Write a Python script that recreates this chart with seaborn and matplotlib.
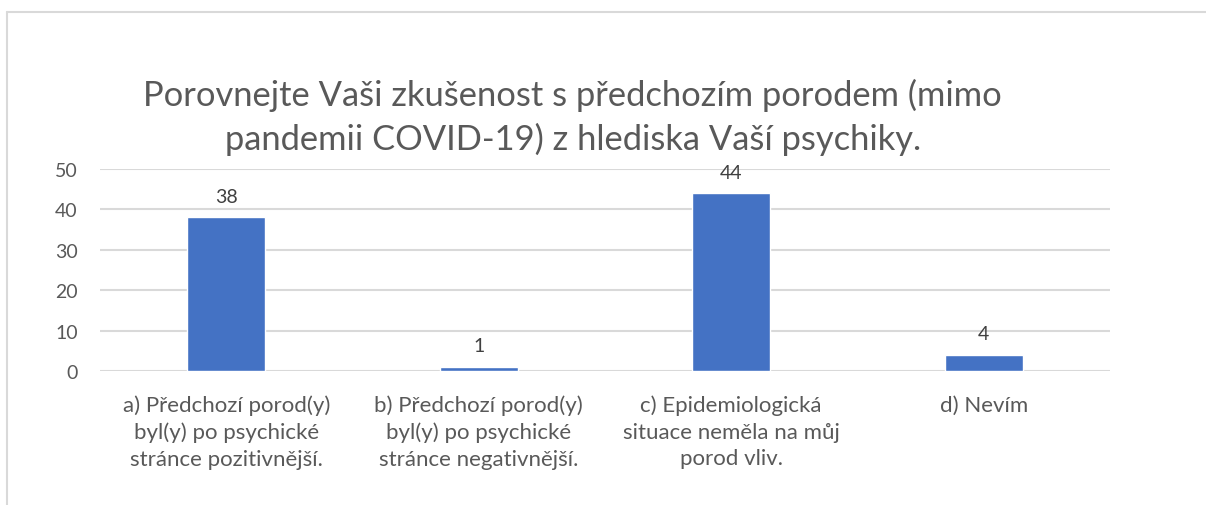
import matplotlib
matplotlib.use("Agg")
import matplotlib.pyplot as plt
from matplotlib.lines import Line2D
import seaborn as sns

categories = [
    "a) Předchozí porod(y)\nbyl(y) po psychické\nstránce pozitivnější.",
    "b) Předchozí porod(y)\nbyl(y) po psychické\nstránce negativnější.",
    "c) Epidemiologická\nsituace neměla na můj\nporod vliv.",
    "d) Nevím",
]
values = [38, 1, 44, 4]
y_ticks = [0, 10, 20, 30, 40, 50]
title = ("Porovnejte Vaši zkušenost s předchozím porodem (mimo\n"
         "pandemii COVID-19) z hlediska Vaší psychiky.")

sns.set_style("white")
plt.rcParams["font.family"] = ["Lato", "DejaVu Sans"]

fig = plt.figure(figsize=(12.06, 5.06), dpi=100)
ax = fig.add_axes([0.0829, 0.2648, 0.8375, 0.3992])

sns.barplot(x=categories, y=values, color="#4472C4", saturation=1, width=0.31, ax=ax)

ax.set_ylim(0, 50)
ax.set_yticks(y_ticks)
ax.set_xlim(-0.5, len(categories) - 0.5)
ax.yaxis.grid(True, color="#d9d9d9", linewidth=1.5)
ax.set_axisbelow(True)
for s in ax.spines.values():
    s.set_visible(False)
ax.tick_params(axis="y", length=0, pad=16, labelsize=14, labelcolor="#595959")
ax.tick_params(axis="x", length=0, pad=17, labelsize=16, labelcolor="#595959")
for lbl in ax.get_xticklabels():
    lbl.set_linespacing(1.4)
ax.set_xlabel("")
ax.set_ylabel("")

ax.bar_label(ax.containers[0], labels=[str(v) for v in values], padding=9,
             fontsize=14, color="#404040")

fig.text(0.475, 0.768, title, ha="center", va="center", multialignment="center",
         fontsize=24.8, color="#595959", linespacing=1.4)

# chart area border (top and left edges visible)
fig.add_artist(Line2D([0.0058, 1], [0.974, 0.974], color="#d9d9d9", linewidth=1.5))
fig.add_artist(Line2D([0.0058, 0.0058], [0, 0.974], color="#d9d9d9", linewidth=1.5))

fig.savefig("out.png", dpi=100, facecolor="white")
